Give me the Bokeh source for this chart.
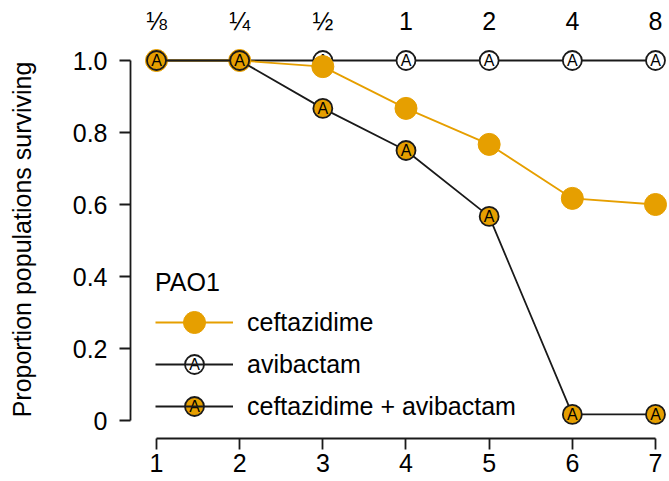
from bokeh.plotting import figure
from bokeh.models import (ColumnDataSource, LinearAxis, FixedTicker, Range1d,
                          Legend, LegendItem)
from bokeh.core.properties import value
from bokeh.embed import file_html
from bokeh.resources import INLINE

# ---- data ----
days = [1, 2, 3, 4, 5, 6, 7]
concentrations = ["⅛", "¼", "½", "1", "2", "4", "8"]
ceftazidime = [1.0, 1.0, 0.983, 0.867, 0.767, 0.617, 0.600]
avibactam = [1.0, 1.0, 1.0, 1.0, 1.0, 1.0, 1.0]
combination = [1.0, 1.0, 0.867, 0.750, 0.567, 0.017, 0.017]
y_ticks = [0, 0.2, 0.4, 0.6, 0.8, 1.0]
y_tick_labels = ["0", "0.2", "0.4", "0.6", "0.8", "1.0"]
series_names = ["ceftazidime", "avibactam", "ceftazidime + avibactam"]
legend_title = "PAO1"
y_label = "Proportion populations surviving"

ORANGE = "#E69F00"
DARK = "#1a1a1a"
FONT = "Liberation Sans"
FS = "25px"

W, H = 669, 481
BL, BR, BT, BB = 130, 2, 40, 43
FW, FH = W - BL - BR, H - BT - BB

p = figure(width=W, height=H, output_backend="svg", toolbar_location=None,
           x_range=Range1d(0.68737, 7.1443), y_range=Range1d(-0.05, 1.05556),
           min_border_left=BL, min_border_right=BR, min_border_top=BT,
           min_border_bottom=BB, x_axis_location=None, y_axis_location=None)
p.extra_x_ranges = {"px": Range1d(0, FW)}
p.extra_y_ranges = {"px": Range1d(0, FH)}
p.outline_line_color = None
p.xgrid.visible = False
p.ygrid.visible = False
p.background_fill_color = "white"
p.border_fill_color = "white"

def style_axis(ax):
    ax.major_label_text_font = FONT
    ax.major_label_text_font_size = FS
    ax.major_label_text_color = "black"
    ax.axis_line_color = DARK
    ax.axis_line_width = 1.8
    ax.major_tick_line_color = DARK
    ax.major_tick_line_width = 1.8
    ax.minor_tick_line_color = None
    ax.major_tick_in = 0

# bottom axis
xb = LinearAxis(ticker=FixedTicker(ticks=days), bounds=(days[0], days[-1]))
style_axis(xb)
xb.major_tick_out = 11
xb.major_label_standoff = 4
p.add_layout(xb, "below")

# top axis (concentration labels)
xt = LinearAxis(ticker=FixedTicker(ticks=days),
                major_label_overrides={d: c for d, c in zip(days, concentrations)})
style_axis(xt)
xt.axis_line_color = None
xt.major_tick_line_color = None
xt.major_tick_out = 0
xt.major_label_standoff = 6
p.add_layout(xt, "above")

# left axis
yl = LinearAxis(ticker=FixedTicker(ticks=y_ticks), bounds=(0, 1),
                major_label_overrides={t: l for t, l in zip(y_ticks, y_tick_labels)})
style_axis(yl)
yl.major_tick_out = 11
yl.major_label_standoff = 12
yl.axis_label = y_label
yl.axis_label_text_font = FONT
yl.axis_label_text_font_size = FS
yl.axis_label_text_font_style = "normal"
yl.axis_label_text_color = "black"
yl.axis_label_standoff = 34
p.add_layout(yl, "left")

src_c = ColumnDataSource(dict(x=days, y=ceftazidime))
src_a = ColumnDataSource(dict(x=days, y=avibactam, t=["A"] * len(days)))
src_ca = ColumnDataSource(dict(x=days, y=combination, t=["A"] * len(days)))

LW = 1.8
A_SIZE, C_SIZE, A_FONT = 19, 22, "16px"
# avibactam
la = p.line("x", "y", source=src_a, line_color=DARK, line_width=LW)
p.scatter("x", "y", source=src_a, size=A_SIZE, fill_color="white",
          line_color=DARK, line_width=LW)
p.text("x", "y", text="t", source=src_a, text_align="center", text_baseline="middle",
       text_font=value(FONT), text_font_size=A_FONT, text_color="black")
# ceftazidime
lc = p.line("x", "y", source=src_c, line_color=ORANGE, line_width=LW)
p.scatter("x", "y", source=src_c, size=C_SIZE, fill_color=ORANGE, line_color=ORANGE)
# combination
lca = p.line("x", "y", source=src_ca, line_color=DARK, line_width=LW)
p.scatter("x", "y", source=src_ca, size=A_SIZE, fill_color=ORANGE,
          line_color=DARK, line_width=LW)
p.text("x", "y", text="t", source=src_ca, text_align="center", text_baseline="middle",
       text_font=value(FONT), text_font_size=A_FONT, text_color="black")

# legend (lines + labels by Bokeh's Legend)
leg_x, leg_y = 25, 11
gw, gh = 78, 42
legend = Legend(items=[
    LegendItem(label=series_names[0], renderers=[lc]),
    LegendItem(label=series_names[1], renderers=[la]),
    LegendItem(label=series_names[2], renderers=[lca]),
], location=(leg_x, leg_y), title=legend_title,
    title_text_font=FONT, title_text_font_size=FS, title_text_font_style="normal",
    title_text_color="black", title_standoff=4,
    label_text_font=FONT, label_text_font_size=FS, label_text_color="black",
    label_standoff=14, label_height=gh,
    glyph_width=gw, glyph_height=gh, spacing=0, padding=0, margin=0,
    border_line_color=None, background_fill_alpha=0)
p.add_layout(legend, "center")

# legend markers drawn on top of the legend lines (pixel ranges of the frame)
lx = leg_x + gw / 2
row_y = [leg_y + gh / 2 + (2 - i) * gh for i in range(3)]
p.scatter([lx], [row_y[0]], x_range_name="px", y_range_name="px", size=C_SIZE,
          fill_color=ORANGE, line_color=ORANGE, level="overlay")
p.scatter([lx], [row_y[1]], x_range_name="px", y_range_name="px", size=A_SIZE,
          fill_color="white", line_color=DARK, line_width=LW, level="overlay")
p.scatter([lx], [row_y[2]], x_range_name="px", y_range_name="px", size=A_SIZE,
          fill_color=ORANGE, line_color=DARK, line_width=LW, level="overlay")
p.text([lx, lx], [row_y[1], row_y[2]], text=["A", "A"], x_range_name="px",
       y_range_name="px", text_align="center", text_baseline="middle",
       text_font=value(FONT), text_font_size=A_FONT, text_color="black",
       level="overlay")

open("out.html", "w").write(file_html(p, INLINE))
